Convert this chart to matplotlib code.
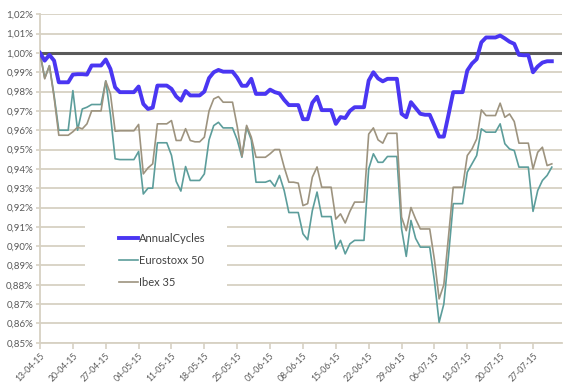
import numpy as np
import pandas as pd
import matplotlib
matplotlib.use("Agg")
import matplotlib.pyplot as plt
import matplotlib.dates as mdates
from matplotlib.patches import Rectangle
from matplotlib.ticker import FuncFormatter, MultipleLocator

# daily values (weekends carry the friday close), 13-04-15 .. 31-07-15
dates = pd.date_range("2015-04-13", "2015-07-31", freq="D")

annual_cycles = [
    1.000, 0.996, 0.999, 0.996, 0.9848, 0.9848, 0.9848, 0.9888, 0.9890, 0.9890,
    0.9888, 0.9935, 0.9935, 0.9935, 0.9966, 0.9917, 0.9822, 0.9797, 0.9797, 0.9797,
    0.9797, 0.9826, 0.9736, 0.9710, 0.9717, 0.9831, 0.9831, 0.9831, 0.9814, 0.9775,
    0.9753, 0.9803, 0.9780, 0.9780, 0.9780, 0.9800, 0.9870, 0.9900, 0.9912, 0.9903,
    0.9903, 0.9903, 0.9872, 0.9830, 0.9830, 0.9866, 0.9788, 0.9788, 0.9788, 0.9810,
    0.9797, 0.9790, 0.9757, 0.9730, 0.9730, 0.9730, 0.9657, 0.9657, 0.9742, 0.9773,
    0.9704, 0.9704, 0.9704, 0.9633, 0.9668, 0.9663, 0.9700, 0.9719, 0.9719, 0.9719,
    0.9857, 0.9900, 0.9868, 0.9853, 0.9866, 0.9866, 0.9866, 0.9685, 0.9667, 0.9745,
    0.9715, 0.9685, 0.9680, 0.9680, 0.9624, 0.9567, 0.9567, 0.9680, 0.9797, 0.9797,
    0.9797, 0.9909, 0.9945, 0.9968, 1.0055, 1.0080, 1.0080, 1.0080, 1.0090, 1.0075,
    1.0058, 1.0047, 0.9990, 0.9988, 0.9988, 0.9900, 0.9930, 0.9950, 0.9957, 0.9957,
]

eurostoxx = [
    1.000, 0.987, 0.9934, 0.978, 0.9600, 0.9600, 0.9600, 0.9805, 0.9600, 0.9710,
    0.9719, 0.9733, 0.9733, 0.9733, 0.9855, 0.968, 0.9452, 0.9448, 0.9448, 0.9448,
    0.9448, 0.9490, 0.9270, 0.9300, 0.9300, 0.9535, 0.9535, 0.9535, 0.9470, 0.9335,
    0.9285, 0.9412, 0.9340, 0.9340, 0.9340, 0.9374, 0.9550, 0.9624, 0.9641, 0.9612,
    0.9612, 0.9612, 0.9550, 0.9460, 0.9616, 0.9550, 0.9331, 0.9331, 0.9331, 0.9340,
    0.9309, 0.9366, 0.9288, 0.9174, 0.9174, 0.9174, 0.9064, 0.9033, 0.9184, 0.9280,
    0.9153, 0.9153, 0.9153, 0.8986, 0.9030, 0.8960, 0.9012, 0.9030, 0.9030, 0.9030,
    0.9400, 0.9478, 0.9434, 0.9434, 0.9464, 0.9464, 0.9464, 0.9090, 0.8947, 0.9133,
    0.9040, 0.8995, 0.8995, 0.8995, 0.8820, 0.8606, 0.8700, 0.8950, 0.9220, 0.9220,
    0.9220, 0.9383, 0.9426, 0.9469, 0.9607, 0.9590, 0.9590, 0.9590, 0.9633, 0.9530,
    0.9503, 0.9495, 0.9409, 0.9409, 0.9409, 0.9180, 0.9288, 0.9340, 0.9366, 0.9409,
]

ibex = [
    1.000, 0.9866, 0.9934, 0.977, 0.9574, 0.9574, 0.9574, 0.9592, 0.9616, 0.9607,
    0.9633, 0.9700, 0.9700, 0.9700, 0.9855, 0.9788, 0.9595, 0.9597, 0.9597, 0.9597,
    0.9597, 0.9630, 0.9374, 0.9405, 0.9426, 0.9633, 0.9633, 0.9633, 0.9650, 0.9547,
    0.9547, 0.9608, 0.9547, 0.9540, 0.9540, 0.9564, 0.9700, 0.9762, 0.9774, 0.9745,
    0.9745, 0.9745, 0.9620, 0.9465, 0.9625, 0.9564, 0.9460, 0.9460, 0.9460, 0.9478,
    0.9500, 0.9500, 0.9409, 0.9331, 0.9331, 0.9326, 0.9210, 0.9220, 0.9357, 0.9410,
    0.9305, 0.9305, 0.9305, 0.9140, 0.9167, 0.9120, 0.9180, 0.9228, 0.9228, 0.9228,
    0.9580, 0.9612, 0.9550, 0.9533, 0.9584, 0.9584, 0.9584, 0.9150, 0.9080, 0.9200,
    0.9140, 0.9089, 0.9089, 0.9089, 0.8930, 0.8727, 0.8800, 0.9050, 0.9305, 0.9305,
    0.9305, 0.9469, 0.9503, 0.9555, 0.9705, 0.9676, 0.9676, 0.9676, 0.9740, 0.9667,
    0.9684, 0.9645, 0.9533, 0.9533, 0.9533, 0.9400, 0.9486, 0.9512, 0.9417, 0.9426,
]

baseline = 1.00

grid_col = "#d7d1c3"
text_col = "#595959"

plt.rcParams["font.family"] = ["Lato", "DejaVu Sans"]

fig = plt.figure(figsize=(5.7, 3.86), dpi=100)
ax = fig.add_axes([0.0702, 0.112, 0.916, 0.851])

ax.yaxis.grid(True, color=grid_col, linewidth=1.3, zorder=0)
ax.set_axisbelow(True)

# white box behind the legend hides the grid there
ax.add_patch(Rectangle((0.086, 0.16), 0.272, 0.208, transform=ax.transAxes,
                       facecolor="white", edgecolor="none", zorder=1))

ax.axhline(baseline, color="#5a5a5a", linewidth=2.2, zorder=2)
ax.plot(dates, eurostoxx, color="#5c9d9b", linewidth=1.2, label="Eurostoxx 50", zorder=3)
ax.plot(dates, ibex, color="#9d937f", linewidth=1.2, label="Ibex 35", zorder=4)
ax.plot(dates, annual_cycles, color="#4a36f2", linewidth=2.8, label="AnnualCycles",
        zorder=5, solid_joinstyle="round")

ax.set_ylim(0.85, 1.02)
ax.set_xlim(dates[0], dates[0] + pd.Timedelta(days=111.2))
ax.yaxis.set_major_locator(MultipleLocator(0.01))
ax.yaxis.set_major_formatter(FuncFormatter(lambda v, p: f"{v:.2f}%".replace(".", ",")))

ax.set_xticks(dates[::7])
ax.xaxis.set_major_formatter(mdates.DateFormatter("%d-%m-%y"))
plt.setp(ax.get_xticklabels(), rotation=45, ha="right", va="top", rotation_mode="anchor")

ax.tick_params(axis="both", colors=grid_col, labelcolor=text_col, width=1.2)
ax.tick_params(axis="x", length=4, pad=2, labelsize=6.2)
ax.tick_params(axis="y", length=3, pad=2, labelsize=7)

for side in ["top", "right"]:
    ax.spines[side].set_visible(False)
for side in ["left", "bottom"]:
    ax.spines[side].set_color(grid_col)
    ax.spines[side].set_linewidth(1.3)

handles, labels = ax.get_legend_handles_labels()
order = [2, 0, 1]
ax.legend([handles[i] for i in order], [labels[i] for i in order],
          loc="upper left", bbox_to_anchor=(0.14, 0.352), frameon=False,
          fontsize=8, handlelength=1.7, handletextpad=0.1, labelspacing=1.0,
          borderpad=0, labelcolor="#404040")

fig.savefig("out.png", dpi=100)
